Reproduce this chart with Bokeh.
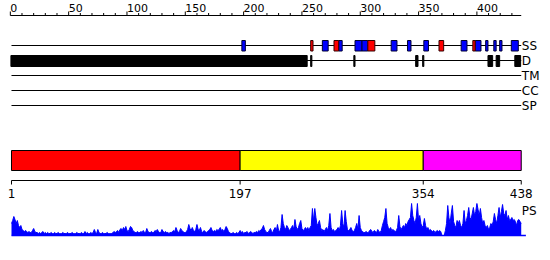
from bokeh.plotting import figure
from bokeh.models import Range1d
from bokeh.core.properties import value
from bokeh.embed import file_html
from bokeh.resources import INLINE

# ---------------- data ----------------
seq_length = 438
ruler_ticks = list(range(0, 431, 10))
ruler_labels = [0, 50, 100, 150, 200, 250, 300, 350, 400]
track_names = ["SS", "D", "TM", "CC", "SP"]

helix_start = [199, 268, 282, 296, 302, 327, 341, 355, 387, 399, 408, 415, 420, 430]
helix_end = [201, 272, 284, 301, 306, 331, 343, 358, 391, 403, 409, 416, 421, 435]
strand_start = [258, 278, 307, 368, 397]
strand_end = [259, 281, 312, 371, 398]

disorder_start = [1, 258, 295, 348, 354, 410, 417, 433]
disorder_end = [254, 258, 295, 349, 354, 413, 419, 437]

domain_start = [1, 197, 354]
domain_end = [197, 354, 438]
domain_colors = ["#ff0000", "#ffff00", "#ff00ff"]
domain_ticks = [1, 197, 354, 438]

ps_values = [
    12, 15, 19, 16, 12, 15, 10, 8, 10, 6,
    5, 4, 5, 4, 3, 4, 3, 3, 5, 7,
    4, 3, 3, 2, 3, 2, 3, 4, 2, 3,
    2, 3, 2, 2, 3, 2, 2, 3, 2, 2,
    3, 2, 2, 2, 3, 2, 2, 2, 3, 2,
    2, 2, 3, 2, 2, 2, 3, 2, 2, 2,
    3, 2, 2, 4, 2, 3, 2, 2, 3, 2,
    3, 6, 3, 2, 6, 3, 2, 2, 3, 2,
    2, 2, 3, 2, 2, 2, 2, 3, 4, 3,
    4, 5, 3, 6, 7, 5, 8, 6, 9, 5,
    4, 6, 9, 8, 5, 4, 3, 3, 4, 3,
    3, 4, 3, 5, 3, 3, 7, 4, 3, 3,
    4, 3, 3, 5, 4, 6, 4, 3, 3, 6,
    4, 3, 4, 3, 3, 2, 3, 3, 4, 5,
    4, 8, 5, 3, 4, 7, 5, 4, 3, 3,
    4, 6, 11, 7, 5, 8, 5, 4, 6, 11,
    6, 5, 8, 4, 3, 5, 4, 3, 4, 5,
    6, 8, 5, 4, 5, 4, 6, 5, 6, 8,
    5, 6, 4, 6, 9, 7, 4, 3, 2, 2,
    3, 2, 2, 3, 2, 3, 5, 3, 4, 2,
    3, 3, 4, 2, 3, 4, 3, 2, 3, 3,
    4, 3, 5, 4, 6, 7, 10, 6, 4, 3,
    3, 5, 7, 4, 3, 6, 8, 4, 11, 5,
    4, 8, 21, 12, 8, 6, 10, 8, 5, 6,
    8, 10, 6, 16, 9, 6, 8, 12, 15, 7,
    5, 6, 8, 6, 8, 5, 8, 10, 27, 14,
    27, 18, 10, 12, 15, 8, 5, 6, 4, 6,
    8, 5, 10, 22, 8, 5, 6, 4, 5, 6,
    8, 5, 10, 25, 12, 8, 25, 14, 6, 5,
    6, 8, 5, 4, 5, 8, 12, 6, 20, 8,
    5, 4, 3, 3, 4, 3, 3, 5, 6, 4,
    3, 5, 4, 3, 6, 4, 3, 5, 10, 14,
    18, 27, 12, 8, 6, 8, 5, 6, 5, 4,
    5, 8, 20, 9, 6, 8, 10, 8, 12, 10,
    14, 16, 18, 32, 20, 15, 12, 18, 32, 15,
    20, 12, 8, 10, 17, 10, 6, 8, 5, 6,
    5, 4, 5, 3, 4, 5, 4, 5, 4, 0,
    0, 0, 5, 12, 30, 18, 12, 22, 30, 14,
    10, 8, 15, 12, 15, 10, 8, 12, 25, 12,
    15, 20, 28, 18, 16, 22, 28, 20, 24, 32,
    26, 20, 27, 18, 12, 15, 10, 8, 10, 6,
    8, 12, 10, 14, 22, 16, 12, 20, 28, 18,
    24, 31, 22, 20, 25, 16, 20, 15, 16, 18,
    15, 16, 14, 10, 15, 16, 14, 12,
]
residues = list(range(1, len(ps_values) + 1))

# ---------------- layout (pixel rows) ----------------
FONT = value("DejaVu Sans")
RULER_Y = 15
TRACK_Y = [45, 60, 75, 90, 105]
SS_TOP, SS_BOT = 40, 50.5
D_TOP, D_BOT = 55, 66
DOM_TOP, DOM_BOT = 150, 170
DRULER_Y = 180

p = figure(width=550, height=260,
           x_range=Range1d(-8.43, 463.1), y_range=Range1d(260, 0),
           x_axis_location=None, y_axis_location=None,
           output_backend="svg", toolbar_location=None, min_border=0)
p.grid.visible = False
p.outline_line_color = None
p.background_fill_color = "white"
p.extra_y_ranges = {"ps": Range1d(-25, 235)}

# top ruler
p.segment(x0=[0], x1=[seq_length], y0=[RULER_Y], y1=[RULER_Y], line_color="black", line_width=1)
minor = [t for t in ruler_ticks if t % 50 != 0]
p.segment(x0=minor, x1=minor, y0=[RULER_Y - 2.5] * len(minor), y1=[RULER_Y] * len(minor),
          line_color="black", line_width=1)
p.segment(x0=ruler_labels, x1=ruler_labels, y0=[RULER_Y - 4] * len(ruler_labels),
          y1=[RULER_Y] * len(ruler_labels), line_color="black", line_width=1)
p.text(x=ruler_labels, y=[RULER_Y - 4] * len(ruler_labels), text=[str(v) for v in ruler_labels],
       text_font=FONT, text_font_size="11px", text_align="left", text_baseline="bottom",
       text_color="black")

# track lines + labels
p.segment(x0=[1] * 5, x1=[seq_length] * 5, y0=TRACK_Y, y1=TRACK_Y, line_color="black", line_width=1)
p.text(x=[seq_length + 0.5] * 5, y=TRACK_Y, text=track_names, text_font=FONT,
       text_font_size="12px", text_align="left", text_baseline="middle", text_color="black")

# SS boxes
p.quad(left=[s - 0.5 for s in helix_start], right=[e + 0.5 for e in helix_end],
       top=SS_TOP, bottom=SS_BOT, fill_color="#0000ff", line_color="#000033", line_width=1)
p.quad(left=[s - 0.5 for s in strand_start], right=[e + 0.5 for e in strand_end],
       top=SS_TOP, bottom=SS_BOT, fill_color="#ff0000", line_color="#330000", line_width=1)

# disorder
p.quad(left=[s - 0.5 for s in disorder_start], right=[e + 0.5 for e in disorder_end],
       top=D_TOP, bottom=D_BOT, fill_color="black", line_color="black", line_width=1)

# domains
p.quad(left=domain_start, right=domain_end, top=DOM_TOP, bottom=DOM_BOT,
       fill_color=domain_colors, line_color="black", line_width=1)

# domain ruler
p.segment(x0=[1], x1=[seq_length], y0=[DRULER_Y], y1=[DRULER_Y], line_color="black", line_width=1)
p.segment(x0=domain_ticks, x1=domain_ticks, y0=[DRULER_Y] * 4, y1=[DRULER_Y + 4] * 4,
          line_color="black", line_width=1)
p.text(x=domain_ticks, y=[DRULER_Y + 8] * 4, text=[str(v) for v in domain_ticks],
       text_font=FONT, text_font_size="12px", text_align="center", text_baseline="top",
       text_color="black")

# PS profile
p.varea(x=residues, y1=[0] * len(residues), y2=ps_values, y_range_name="ps",
        fill_color="#0000ff")
p.line(x=residues, y=ps_values, y_range_name="ps", line_color="#0000ff", line_width=1)
p.segment(x0=[1], x1=[seq_length + 4], y0=[0], y1=[0], y_range_name="ps",
          line_color="#0000ff", line_width=1.5)
p.text(x=[seq_length + 0.5], y=[25], text=["PS"], y_range_name="ps", text_font=FONT,
       text_font_size="12px", text_align="left", text_baseline="middle", text_color="black")

open("out.html", "w").write(file_html(p, INLINE))
